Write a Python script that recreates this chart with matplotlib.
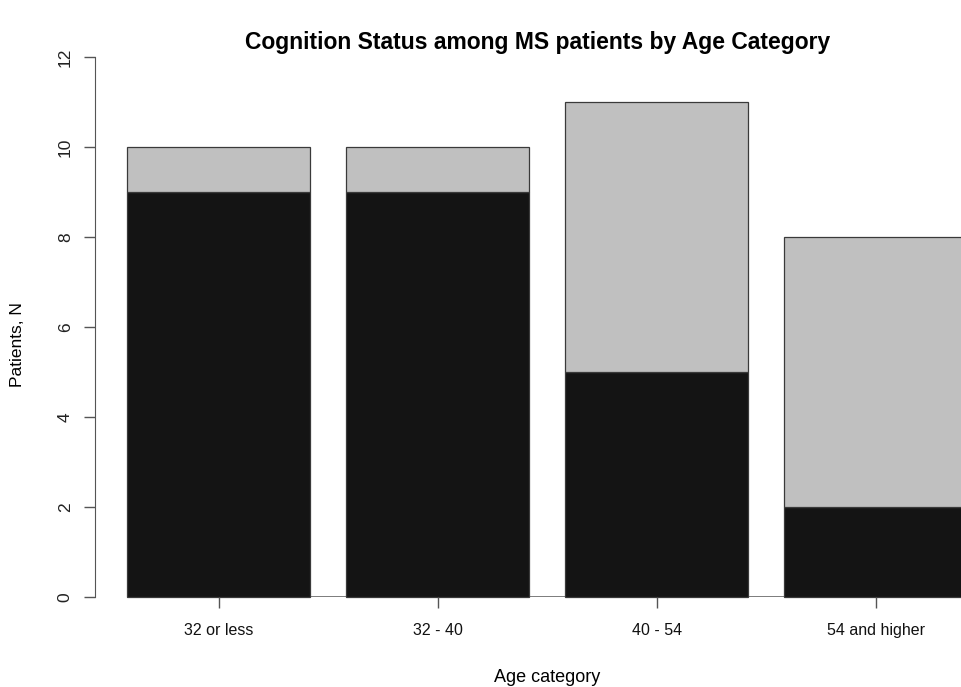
import matplotlib
matplotlib.use('Agg')
import matplotlib.pyplot as plt
import numpy as np

# Data
age_groups = ['32 or less', '32 - 40', '40 - 54', '54 and higher']
status_dark = [9, 9, 5, 2]    # lower (black) segment
status_light = [1, 1, 6, 6]   # upper (grey) segment
y_ticks = [0, 2, 4, 6, 8, 10, 12]

plt.rcParams['font.family'] = ['Liberation Sans', 'DejaVu Sans']

fig = plt.figure(figsize=(9.62, 6.87), dpi=100, facecolor='white')
W, H = 962, 687
# axes region in pixels: left 95, right 962, y=0 at 597, y=12 at 57
ax = fig.add_axes([95 / W, (H - 597) / H, (962 - 95) / W, (597 - 57) / H])

# R barplot spacing: width 1, space 0.2
x = 0.2 + np.arange(len(age_groups)) * 1.2 + 0.5
edge = '#3a3a3a'
ax.bar(x, status_dark, width=1.0, color='#141414', edgecolor=edge, linewidth=0.9, clip_on=False)
ax.bar(x, status_light, width=1.0, bottom=status_dark, color='#c0c0c0', edgecolor=edge,
       linewidth=0.9, clip_on=False)
ax.hlines(0, x[0], x[-1], color='#666666', linewidth=1.2, zorder=0.5)

ax.set_xlim(0.023, 4.773)
ax.set_ylim(0, 12)

for s in ['top', 'right', 'bottom']:
    ax.spines[s].set_visible(False)
ax.spines['left'].set_bounds(0, 12)
ax.spines['left'].set_color('#555555')

ax.set_yticks(y_ticks)
ax.set_yticklabels([str(t) for t in y_ticks], rotation=90, va='center', fontsize=12.5, color='#222222')
ax.tick_params(axis='y', length=8, width=1, color='#555555', pad=8)

ax.set_xticks(x)
ax.set_xticklabels(age_groups, fontsize=11.5, color='#111111')
ax.tick_params(axis='x', length=8, width=1, color='#555555', pad=11)

fig.text(538 / W, 1 - 43 / H, 'Cognition Status among MS patients by Age Category',
         ha='center', va='center', fontsize=16.5, fontweight='bold')
fig.text(547 / W, 1 - 677 / H, 'Age category', ha='center', va='center', fontsize=13)
fig.text(18 / W, 1 - 345 / H, 'Patients, N', ha='center', va='center', rotation=90, fontsize=12.5)

fig.savefig('out.png', dpi=100, facecolor='white')
